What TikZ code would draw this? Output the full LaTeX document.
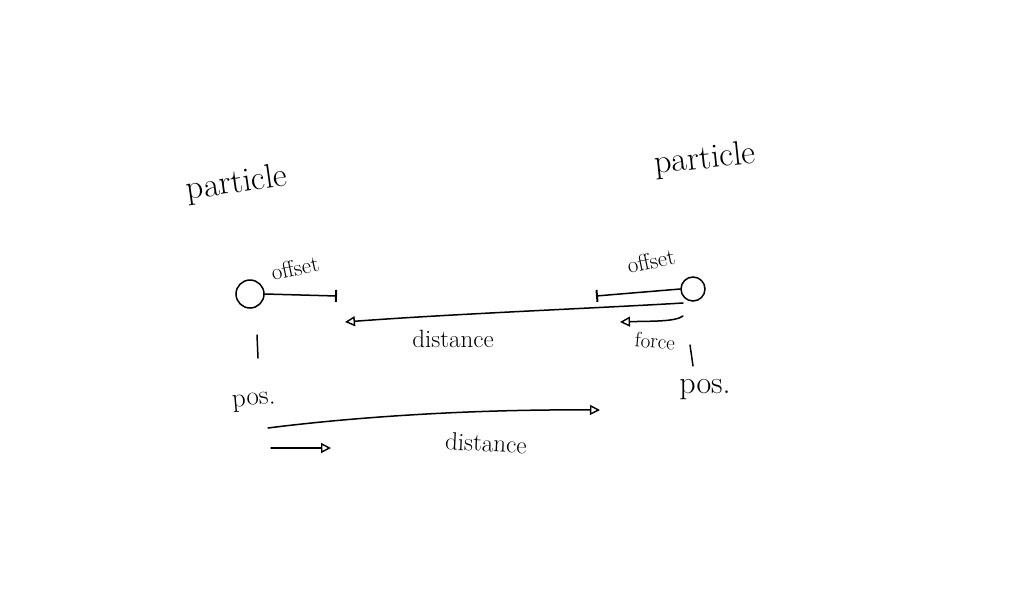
\documentclass[tikz,border=0pt]{standalone}
\usetikzlibrary{arrows.meta}
\begin{document}
\begin{tikzpicture}[x=1pt,y=-1pt,
  pen/.style={line width=1.5pt,line cap=round,black},
  lbl/.style={inner sep=0pt,font=\fontsize{#1}{#1}\selectfont},
  part/.style={circle,draw,line width=1.5pt,minimum size=#1,inner sep=0pt},
  opentip/.style={-{Triangle[open,length=10pt,width=10pt,line width=1.4pt]}},
  bartip/.style={-{Bar[width=12pt,line width=2pt]}}]
\useasboundingbox[fill=white] (0,0) rectangle (1025,592);
% titles
\node[lbl=34,rotate=8] (pl) at (237,184) {particle};
\node[lbl=34,rotate=6] (pr) at (705,160) {particle};
% particles
\node[part=24pt,minimum width=28pt] (cl) at (250,294) {};
\node[part=24pt] (cr) at (693,289) {};
% offset lines
\coordinate (olend) at (337,296);
\coordinate (orend) at (596,296);
\draw[pen,bartip] (cl.east) -- (olend);
\draw[pen,bartip] (cr.west) -- (orend);
\node[lbl=23,rotate=12] (ol) at (295,268) {offset};
\node[lbl=23,rotate=12] (or) at (651,261) {offset};
% distance between offsets
\coordinate (ds) at (683,303);
\coordinate (de) at (345,322);
\draw[pen,opentip] (ds) .. controls (600,308) and (450,314) .. (de);
\node[lbl=25] (dl) at (453,339) {distance};
% force
\coordinate (fs) at (683,316);
\coordinate (fe) at (620,322);
\draw[pen,opentip] (fs) .. controls (675,322) and (650,321) .. (fe);
\node[lbl=21,rotate=-5] (fl) at (655,341) {force};
\coordinate (sq1) at (690,345);
\coordinate (sq2) at (693,366);
\draw[pen] (sq1) -- (sq2);
% left vertical tick
\coordinate (t1) at (257,335);
\coordinate (t2) at (258,358);
\draw[pen] (t1) -- (t2);
% positions
\node[lbl=27,rotate=5] (posl) at (254,402) {pos.};
\node[lbl=32] (posr) at (705,390) {pos.};
% position distance arrows
\coordinate (pa1) at (268,428);
\coordinate (pa2) at (600,410);
\draw[pen,opentip] (pa1) .. controls (330,420) and (450,409) .. (pa2);
\coordinate (pb1) at (271,448);
\coordinate (pb2) at (331,448);
\draw[pen,opentip] (pb1) -- (pb2);
\node[lbl=25,rotate=-3] (dl2) at (486,443) {distance};
\end{tikzpicture}
\end{document}
